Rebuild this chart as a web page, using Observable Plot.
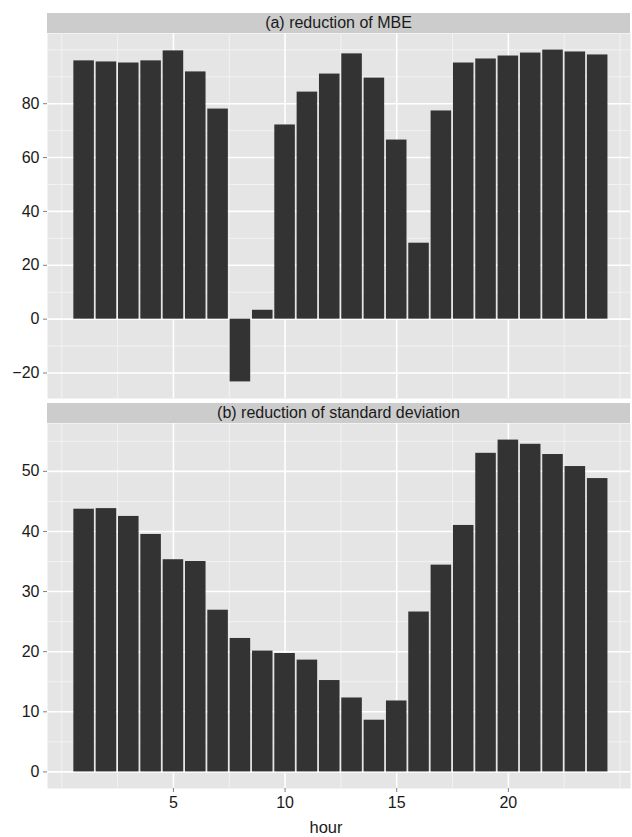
<!DOCTYPE html>
<html>
<head>
<meta charset="utf-8">
<script src="https://cdn.jsdelivr.net/npm/d3@7"></script>
<script src="https://cdn.jsdelivr.net/npm/@observablehq/plot@0.6"></script>
<style>
  body { margin: 0; padding-top: 13px; background: #ffffff; font-family: "Liberation Sans", Arial, sans-serif; overflow: hidden; }
  .strip { margin-left: 47px; width: 583px; height: 20px; background: #CCCCCC; color: #1a1a1a;
           font-size: 16px; line-height: 20px; text-align: center; }
  .gap { height: 5px; }
  .xtitle { margin-left: 20px; width: 612px; height: 19px; line-height: 19px; text-align: center;
            font-size: 16.5px; color: #1a1a1a; }
  svg { display: block; }
</style>
</head>
<body>
<div id="chart"></div>
<script>
const hours = [1,2,3,4,5,6,7,8,9,10,11,12,13,14,15,16,17,18,19,20,21,22,23,24];
const mbeReduction = [95.9,95.5,95.1,95.9,99.6,91.8,78.0,-23.3,3.3,72.1,84.3,91.0,98.5,89.5,66.5,28.2,77.3,95.1,96.6,97.7,98.8,99.9,99.2,98.1];
const sdReduction = [43.7,43.8,42.5,39.5,35.3,35.0,26.9,22.2,20.1,19.7,18.6,15.2,12.3,8.6,11.8,26.6,34.4,41.0,53.0,55.2,54.5,52.8,50.8,48.8];
const panelTitles = ["(a) reduction of MBE", "(b) reduction of standard deviation"];
const xTitle = "hour";
const xMajorTicks = [5, 10, 15, 20];
const xMinorTicks = [0, 2.5, 7.5, 12.5, 17.5, 22.5, 25];
const mbeMajorTicks = [-20, 0, 20, 40, 60, 80];
const mbeMinorTicks = [-10, 10, 30, 50, 70, 90, 100];
const sdMajorTicks = [0, 10, 20, 30, 40, 50];
const sdMinorTicks = [5, 15, 25, 35, 45, 55];

function expand(vals) {
  const lo = Math.min(0, d3.min(vals)), hi = Math.max(0, d3.max(vals));
  const pad = (hi - lo) * 0.05;
  return [lo - pad, hi + pad];
}

function panel(values, yMajor, yMinor, showX) {
  const data = hours.map((h, i) => ({hour: h, value: values[i]}));
  const panelH = 365;
  return Plot.plot({
    width: 632,
    height: showX ? panelH + 30 : panelH,
    marginLeft: 47,
    marginRight: 2,
    marginTop: 0,
    marginBottom: showX ? 30 : 0,
    style: {fontFamily: '"Liberation Sans", Arial, sans-serif', fontSize: "16px", color: "#1a1a1a", background: "transparent", overflow: "visible"},
    x: {domain: [-0.64, 25.47], axis: null},
    y: {domain: expand(values), axis: null},
    marks: [
      Plot.frame({fill: "#E5E5E5", stroke: null}),
      Plot.gridX(xMinorTicks, {stroke: "#F2F2F2", strokeOpacity: 1, strokeWidth: 1}),
      Plot.gridY(yMinor, {stroke: "#F2F2F2", strokeOpacity: 1, strokeWidth: 1}),
      Plot.gridX(xMajorTicks, {stroke: "#ffffff", strokeOpacity: 1, strokeWidth: 1.6}),
      Plot.gridY(yMajor, {stroke: "#ffffff", strokeOpacity: 1, strokeWidth: 1.6}),
      Plot.rectY(data, {x1: d => d.hour - 0.46, x2: d => d.hour + 0.46, y1: 0, y2: "value", fill: "#333333"}),
      Plot.axisY(yMajor, {tickSize: 4, tickPadding: 4, stroke: "#7f7f7f", fill: "#1a1a1a", label: null}),
      showX ? Plot.axisX(xMajorTicks, {tickSize: 4, tickPadding: 4, stroke: "#7f7f7f", fill: "#1a1a1a", label: null}) : null
    ]
  });
}

const root = document.getElementById("chart");
function strip(t) { const d = document.createElement("div"); d.className = "strip"; d.textContent = t; return d; }
root.appendChild(strip(panelTitles[0]));
root.appendChild(panel(mbeReduction, mbeMajorTicks, mbeMinorTicks, false));
const g = document.createElement("div"); g.className = "gap"; root.appendChild(g);
root.appendChild(strip(panelTitles[1]));
root.appendChild(panel(sdReduction, sdMajorTicks, sdMinorTicks, true));
const xt = document.createElement("div"); xt.className = "xtitle"; xt.textContent = xTitle; root.appendChild(xt);
</script>
</body>
</html>
